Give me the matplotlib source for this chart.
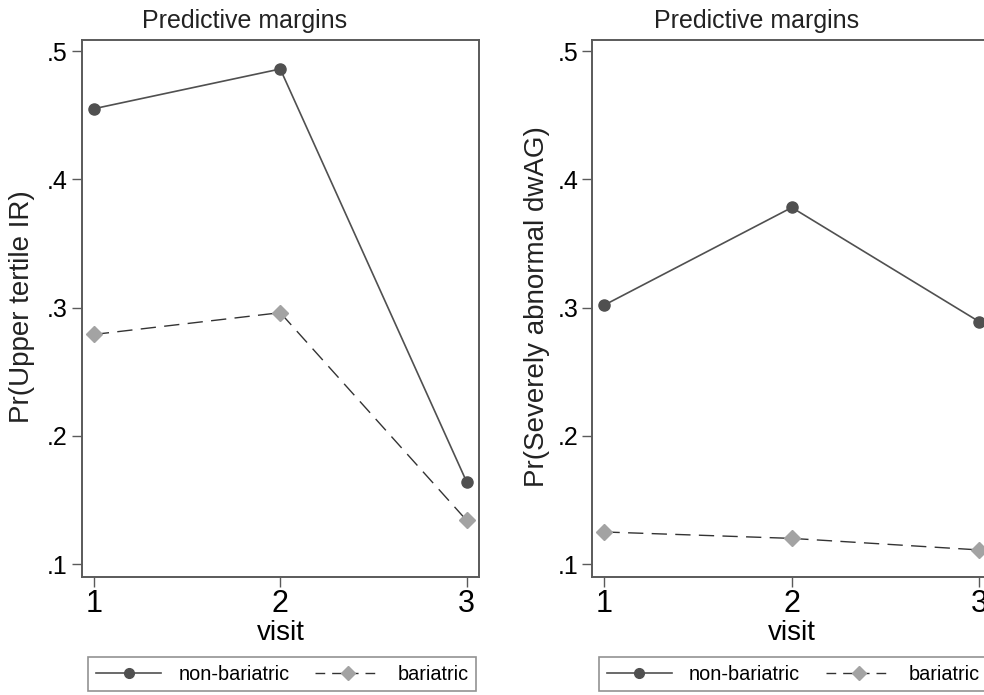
import matplotlib
matplotlib.use("Agg")
import matplotlib.pyplot as plt
from matplotlib.lines import Line2D

plt.rcParams['font.family'] = ['Liberation Sans', 'DejaVu Sans']

visits = [1, 2, 3]
groups = ["non-bariatric", "bariatric"]

# Panel A: upper tertile insulin resistance
ir_nonbariatric = [0.455, 0.486, 0.164]
ir_bariatric = [0.279, 0.296, 0.134]

# Panel B: severely abnormal dwAG
dwag_nonbariatric = [0.302, 0.378, 0.289]
dwag_bariatric = [0.125, 0.120, 0.111]

yticks = [0.1, 0.2, 0.3, 0.4, 0.5]
ytick_labels = [".1", ".2", ".3", ".4", ".5"]

W, H = 984, 695
fig = plt.figure(figsize=(W / 100, H / 100), dpi=100)
fig.patch.set_facecolor("white")

dark = "#505050"
light = "#a3a3a3"
spine_c = "#5a5a5a"


def px_rect(x0, y0, x1, y1):
    return [x0 / W, 1 - y1 / H, (x1 - x0) / W, (y1 - y0) / H]


panels = [
    dict(rect=px_rect(81.7, 40, 479, 577), nb=ir_nonbariatric, b=ir_bariatric,
         ylabel="Pr(Upper tertile IR)", ylab_x=22, title_x=245, leg_x=88.3),
    dict(rect=px_rect(592.3, 40, 991.5, 577), nb=dwag_nonbariatric, b=dwag_bariatric,
         ylabel="Pr(Severely abnormal dwAG)", ylab_x=537, title_x=757, leg_x=599),
]

for p in panels:
    ax = fig.add_axes(p["rect"])
    ax.plot(visits, p["nb"], color=dark, lw=1.2, marker="o", ms=8,
            mfc=dark, mec=dark, zorder=3)
    ax.plot(visits, p["b"], color="#333333", lw=1.0, dashes=(11, 6),
            marker="D", ms=8, mfc=light, mec=light, zorder=3)
    ax.set_xlim(0.935, 3.066)
    ax.set_ylim(0.0899, 0.5086)
    ax.set_xticks(visits)
    ax.set_xticklabels([str(v) for v in visits], fontsize=22)
    ax.set_yticks(yticks)
    ax.set_yticklabels(ytick_labels, fontsize=18)
    ax.tick_params(axis="y", direction="out", length=7, width=1.0, color=spine_c, pad=3)
    ax.tick_params(axis="x", direction="out", length=7, width=1.0, color=spine_c, pad=2)
    for s in ax.spines.values():
        s.set_color(spine_c)
        s.set_linewidth(1.4)
    ax.set_xlabel("visit", fontsize=20, labelpad=0)

    fig.text(p["ylab_x"] / W, 1 - 307 / H, p["ylabel"], rotation=90,
             ha="center", va="center", fontsize=20, color="#222222")
    fig.text(p["title_x"] / W, 1 - 21 / H, "Predictive margins",
             ha="center", va="center", fontsize=18, color="#222222")

    handles = [
        Line2D([], [], color=dark, lw=1.2, marker="o", ms=7, mfc=dark, mec=dark),
        Line2D([], [], color="#333333", lw=1.0, dashes=(7, 5), marker="D", ms=7,
               mfc=light, mec=light),
    ]
    leg = fig.legend(handles, groups, loc="upper left",
                     bbox_to_anchor=(p["leg_x"] / W, 1 - 657 / H),
                     bbox_transform=fig.transFigure, ncol=2, fontsize=14.3,
                     frameon=True, fancybox=False, edgecolor="#777777",
                     handlelength=3.3, handletextpad=0.85, columnspacing=1.3,
                     borderpad=0.38, borderaxespad=0, numpoints=1)
    leg.get_frame().set_linewidth(1.2)

fig.savefig("out.png", dpi=100, facecolor="white")
